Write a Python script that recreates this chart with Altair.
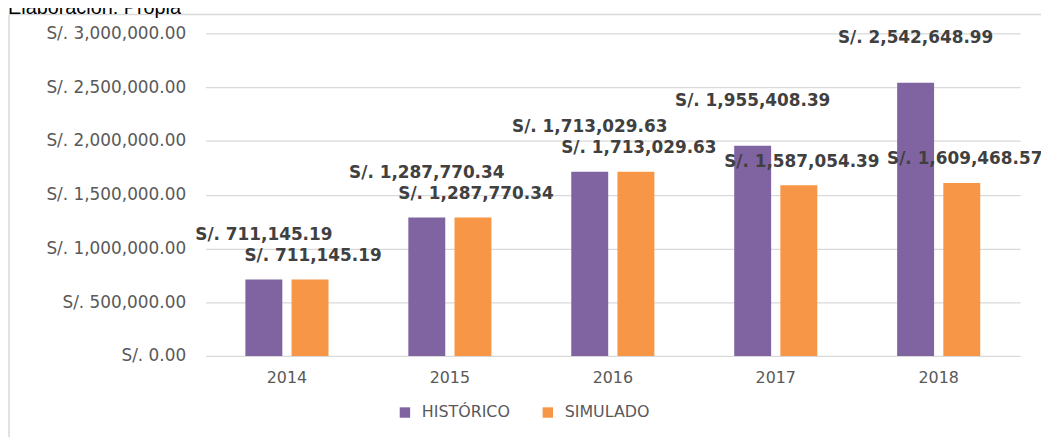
import altair as alt
import pandas as pd

years = ["2014", "2015", "2016", "2017", "2018"]
historico = [711145.19, 1287770.34, 1713029.63, 1955408.39, 2542648.99]
simulado = [711145.19, 1287770.34, 1713029.63, 1587054.39, 1609468.57]
series_names = ["HISTÓRICO", "SIMULADO"]
series_colors = ["#8064A2", "#F79646"]
y_ticks = [0, 500000, 1000000, 1500000, 2000000, 2500000, 3000000]
source_note = "Elaboración: Propia"

rows = []
for i, yr in enumerate(years):
    rows.append({"year": yr, "serie": series_names[0], "valor": historico[i]})
    rows.append({"year": yr, "serie": series_names[1], "valor": simulado[i]})
df = pd.DataFrame(rows)

FONT = "DejaVu Sans"

x_enc = alt.X(
    "year:N",
    sort=years,
    scale=alt.Scale(paddingInner=0.49, paddingOuter=0.245),
    axis=alt.Axis(title=None, labelAngle=0, ticks=False, domain=False,
                  labelFontSize=16, labelColor="#595959", labelFont=FONT,
                  labelPadding=14, grid=False),
)
xo_enc = alt.XOffset(
    "serie:N", sort=series_names,
    scale=alt.Scale(domain=series_names, paddingInner=0.2, paddingOuter=0),
)
y_enc = alt.Y(
    "valor:Q",
    scale=alt.Scale(domain=[0, 3000000], nice=False),
    axis=alt.Axis(title=None, values=y_ticks,
                  labelExpr="'S/. ' + format(datum.value, ',.2f')",
                  grid=True, gridColor="#d9d9d9", gridWidth=1.2,
                  domain=False, ticks=False, labelPadding=20,
                  labelFontSize=17, labelColor="#595959", labelFont=FONT),
)
color_enc = alt.Color(
    "serie:N",
    scale=alt.Scale(domain=series_names, range=series_colors),
    legend=alt.Legend(title=None, orient="none", direction="horizontal",
                      legendX=193, legendY=374, symbolType="square",
                      symbolSize=110, symbolStrokeWidth=0,
                      labelFontSize=16, labelColor="#595959", labelFont=FONT,
                      columnPadding=30, labelOffset=9),
)

base = alt.Chart(df)
bars = base.mark_bar().encode(x=x_enc, xOffset=xo_enc, y=y_enc, color=color_enc)

label_expr = "'S/. ' + format(datum.valor, ',.2f')"
lab_h = base.transform_filter(alt.datum.serie == series_names[0]).transform_calculate(
    label=label_expr
).mark_text(dy=-45, fontSize=17, fontWeight="bold", font=FONT, color="#404040").encode(
    x=x_enc, xOffset=xo_enc, y=y_enc, text="label:N"
)
lab_s = base.transform_filter(alt.datum.serie == series_names[1]).transform_calculate(
    label=label_expr
).mark_text(dy=-24, dx=3, fontSize=17, fontWeight="bold", font=FONT, color="#404040").encode(
    x=x_enc, xOffset=xo_enc, y=y_enc, text="label:N"
)

one = alt.Chart(pd.DataFrame({"k": [0]}))
frame_left = one.mark_rule(color="#d9d9d9", strokeWidth=1.5).encode(
    x=alt.value(-198), y=alt.value(-19), y2=alt.value(407)
)
frame_top = one.mark_rule(color="#d9d9d9", strokeWidth=1.5).encode(
    x=alt.value(-198), x2=alt.value(842), y=alt.value(-19)
)
note = one.mark_text(align="left", baseline="alphabetic", fontSize=20,
                     font="Liberation Sans", color="#000000").encode(
    x=alt.value(-199), y=alt.value(-20), text=alt.value(source_note)
)

chart = alt.layer(frame_left, frame_top, note, bars, lab_h, lab_s).properties(
    width=821, height=325,
    padding={"left": 199, "top": 24, "right": 21, "bottom": 81},
    autosize=alt.AutoSizeParams(type="none"),
).configure_view(stroke=None)

chart.save("out.html", embed_options={"renderer": "svg", "actions": False})
